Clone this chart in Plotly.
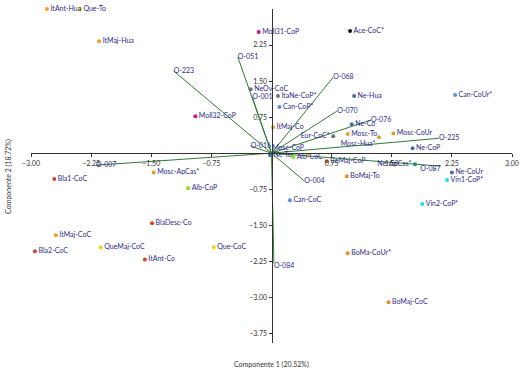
import plotly.graph_objects as go

# Sample scores
labels = ["ItAnt-Hua", "Que-To", "ItMaj-Hua", "Moll31-CoP", "Ace-CoC*", "NeOv-CoC", "ItaNe-CoP*",
          "Can-CoP*", "Ne-Hua", "Can-CoUr*", "Moll32-CoP", "ItMaj-Co", "Eur-CoC*", "Ne-Co",
          "Mosc-To", "Mosc-Hua*", "Mosc-CoUr", "Ne-CoP", "Ne-ApCas*", "Ne-CoUr", "Vin1-CoP*",
          "Vin2-CoP*", "BoMaj-To", "BoMaj-CoP", "Alb-CoC", "Mosc-CoP", "Ne-To", "Can-CoC",
          "Mosc-ApCas*", "Bla1-CoC", "Alb-CoP", "BlaDesc-Co", "ItMaj-CoC", "Bla2-CoC",
          "QueMaj-CoC", "ItAnt-Co", "Que-CoC", "BoMa-CoUr*", "BoMaj-CoC"]
comp1 = [-2.80, -2.39, -2.15, -0.16, 0.98, -0.26, 0.08,
         0.10, 1.03, 2.29, -0.95, 0.02, 0.77, 1.00,
         0.95, 1.34, 1.52, 1.76, 1.79, 2.25, 2.19,
         1.88, 0.94, 0.69, 0.27, 0.45, -0.02, 0.23,
         -1.47, -2.71, -1.04, -1.49, -2.69, -2.95,
         -2.13, -1.58, -0.72, 0.95, 1.46]
comp2 = [3.00, 3.00, 2.33, 2.52, 2.54, 1.33, 1.19,
         0.96, 1.19, 1.21, 0.77, 0.54, 0.35, 0.60,
         0.40, 0.33, 0.41, 0.10, -0.23, -0.40, -0.56,
         -1.06, -0.48, -0.17, -0.08, -0.04, -0.04, -0.98,
         -0.40, -0.54, -0.73, -1.46, -1.71, -2.04,
         -1.96, -2.21, -1.96, -2.08, -3.10]
groups = ["ItO", "Que", "ItO", "Moll", "Ace", "Grey", "Grey",
          "Can", "Ne", "Can", "Moll", "ItO", "Grey", "Ne",
          "Mosc", "Mosc", "Mosc", "Ne", "NeAp", "Ne", "Vin",
          "Vin", "BoO", "BoB", "Alb", "Mosc", "Ne", "Can",
          "Mosc", "Bla", "Alb", "Bla", "ItO", "Bla",
          "Que", "Bla", "Que", "BoO", "BoO"]
label_pos = {"Eur-CoC*": "middle left", "Mosc-Hua*": "bottom left",
             "Ne-ApCas*": "middle left", "Mosc-CoP": "top left"}

# Variable loadings
var_names = ["O-051", "O-223", "O-001", "O-068", "O-070", "O-076", "O-225",
             "O-087", "O-004", "O-084", "O-016", "O-007"]
load1 = [-0.42, -1.22, -0.24, 0.77, 0.82, 1.24, 2.09, 2.11, 0.41, 0.03, -0.26, -2.19]
load2 = [2.00, 1.71, 1.17, 1.58, 0.88, 0.69, 0.31, -0.27, -0.58, -2.29, 0.15, -0.25]
var_pos = {"O-087": "bottom left", "O-084": "bottom right"}

x_ticks = [-3.00, -2.25, -1.50, -0.75, 0.75, 1.50, 2.25, 3.00]
y_ticks = [-3.75, -3.00, -2.25, -1.50, -0.75, 0.75, 1.50, 2.25]

colors = {"ItO": "#f0a020", "Que": "#f2d310", "Moll": "#e0107a", "Ace": "#111111",
          "Grey": "#707070", "Can": "#5b8de0", "Ne": "#3f72aa", "NeAp": "#2a8a7a",
          "Mosc": "#e0a030", "Vin": "#20dcf0", "BoO": "#f08a20", "BoB": "#c0601e",
          "Alb": "#80e020", "Bla": "#e0401a"}

FONT = "Lato"
fig = go.Figure()

lx, ly = [], []
for a, b in zip(load1, load2):
    lx += [0, a, None]
    ly += [0, b, None]
fig.add_trace(go.Scatter(x=lx, y=ly, mode="lines", line=dict(color="#2e7d32", width=1),
                         hoverinfo="skip", showlegend=False))
fig.add_trace(go.Scatter(x=load1, y=load2, mode="text", text=var_names,
                         textposition=[var_pos.get(n, "middle right") for n in var_names],
                         textfont=dict(size=7, color="#2b2b8c", family=FONT),
                         cliponaxis=False, showlegend=False))
fig.add_trace(go.Scatter(x=comp1, y=comp2, mode="markers+text", text=labels,
                         textposition=[label_pos.get(n, "middle right") for n in labels],
                         textfont=dict(size=7, color="#2b2b8c", family=FONT),
                         marker=dict(size=4, color=[colors[g] for g in groups]),
                         cliponaxis=False, showlegend=False))

yr = [-3.95, 3.0]
fig.update_layout(
    width=522, height=371,
    margin=dict(l=31, r=10, t=9, b=28),
    paper_bgcolor="white", plot_bgcolor="white",
    font=dict(family=FONT, size=7, color="#333333"),
    xaxis=dict(range=[-3.0, 3.0], showgrid=False, zeroline=False, showline=True,
               linecolor="#333333", linewidth=1, anchor="free", automargin=False,
               position=(0 - yr[0]) / (yr[1] - yr[0]),
               tickvals=x_ticks, tickformat=".2f",
               ticks="outside", ticklen=3, tickcolor="#333333",
               tickfont=dict(size=7, color="#333333", family=FONT)),
    yaxis=dict(range=yr, showgrid=False, zeroline=False, showline=True,
               linecolor="#333333", linewidth=1, anchor="free", position=0.5,
               automargin=False,
               tickvals=y_ticks, tickformat=".2f",
               ticks="outside", ticklen=3, tickcolor="#333333",
               tickfont=dict(size=7, color="#333333", family=FONT)),
    annotations=[
        dict(text="Componente 1 (20.52%)", x=0.5, y=-0.063, xref="paper", yref="paper",
             showarrow=False, font=dict(size=7, color="#333333", family=FONT),
             yanchor="middle"),
        dict(text="Componente 2 (18.72%)", x=-0.048, y=0.5, xref="paper", yref="paper",
             showarrow=False, textangle=-90, font=dict(size=7, color="#333333", family=FONT),
             xanchor="center"),
    ],
)

fig.write_html("out.html", config={"displayModeBar": False},
               post_script="document.body.style.margin='0';")
